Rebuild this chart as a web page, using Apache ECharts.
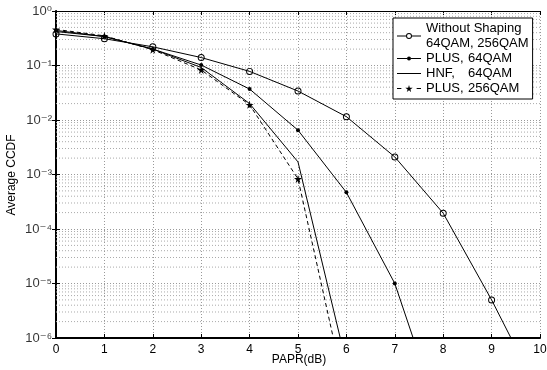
<!DOCTYPE html>
<html>
<head>
<meta charset="utf-8">
<script src="https://cdn.jsdelivr.net/npm/echarts@6/dist/echarts.min.js"></script>
<style>
  html, body { margin: 0; padding: 0; background: #fff; }
  #chart { width: 547px; height: 370px; }
</style>
</head>
<body>
<div id="chart"></div>
<script>
// PAPR (dB) sample points
const papr = [0, 1, 2, 3, 4, 5, 6, 7, 8, 9, 10];
// CCDF curves (last points fall below 1e-6 and get clipped)
const noShaping = [0.38, 0.31, 0.22, 0.14, 0.078, 0.034, 0.0115, 0.0021, 1.95e-4, 5.0e-6, 9e-8];
const plus64 = [0.44, 0.34, 0.20, 0.102, 0.037, 0.0065, 4.7e-4, 1.0e-5, 2.3e-8];
const hnf = [0.42, 0.34, 0.20, 0.092, 0.02, 0.0017, 3.4e-7];
const plus256 = [0.46, 0.35, 0.195, 0.083, 0.019, 8.3e-4, 8.3e-8];
const seriesNames = ['Without Shaping\n64QAM, 256QAM', 'PLUS, 64QAM', 'HNF, 64QAM', 'PLUS, 256QAM'];
// y tick values (decades)
const yTicks = [1, 1e-1, 1e-2, 1e-3, 1e-4, 1e-5, 1e-6];
// minor horizontal grid lines (2..9 x 10^k)
const minorGrid = [];
for (let k = -6; k < 0; k++) {
  for (let m = 2; m <= 9; m++) minorGrid.push(m * Math.pow(10, k));
}

const font = 'Liberation Sans, Arial, DejaVu Sans, sans-serif';
const star = 'path://M50,0 L61,35 L98,35 L68,57 L79,91 L50,70 L21,91 L32,57 L2,35 L39,35 Z';
// hollow ring marker (line shows through, like matlab 'o')
const ring = 'path://M100,50 A50,50 0 1,0 0,50 A50,50 0 1,0 100,50 Z M86,50 A36,36 0 1,1 14,50 A36,36 0 1,1 86,50 Z';
// legend icons: line + marker
const ringIcon = 'path://M0,2.5 L9,2.5 L9,3.5 L0,3.5 Z M15,2.5 L24,2.5 L24,3.5 L15,3.5 Z ' +
  'M15,3 A3,3 0 1,0 9,3 A3,3 0 1,0 15,3 Z M14,3 A2,2 0 1,1 10,3 A2,2 0 1,1 14,3 Z';
const dotIcon = 'path://M0,2.5 L10,2.5 L10,3.5 L0,3.5 Z M14,2.5 L24,2.5 L24,3.5 L14,3.5 Z ' +
  'M14,3 A2,2 0 1,1 10,3 A2,2 0 1,1 14,3 Z';
const lineIcon = 'path://M0,0 L24,0 L24,1 L0,1 Z';
const starIcon = 'path://M1,2.7 L5,2.7 L5,3.7 L1,3.7 Z M19,2.7 L23,2.7 L23,3.7 L19,3.7 Z ' +
  'M12,0 L12.77,2.45 L15.36,2.45 L13.26,3.99 L14.03,6.37 L12,4.9 L9.97,6.37 L10.74,3.99 L8.64,2.45 L11.23,2.45 Z';
const sup = {'0': '\u2070', '1': '\u00b9', '2': '\u00b2', '3': '\u00b3', '4': '\u2074',
  '5': '\u2075', '6': '\u2076', '-': '\u207b'};
const powLabel = (v) => '10' + String(Math.round(Math.log10(v))).split('').map(c => sup[c]).join('');

const pairs = (ys) => ys.map((y, i) => [papr[i], y]);

const chart = echarts.init(document.getElementById('chart'), null, {renderer: 'canvas'});

const gridLine = {show: true, lineStyle: {color: '#999', type: [1, 2], width: 1}};

// one thin helper series per minor grid value
const minorSeries = minorGrid.map(v => ({
  type: 'line', data: [[0, v], [10, v]], silent: true, symbol: 'none',
  z: 1, lineStyle: {color: '#aaa', type: [1, 2], width: 1}
}));

// y tick labels, placed at x = 0 through the axis scales
const tickLabelSeries = {
  type: 'scatter', data: yTicks.map(v => [0, v]), symbolSize: 0, silent: true, clip: false, z: 5,
  label: {
    show: true, position: 'left', distance: 4,
    fontFamily: font, fontSize: 13, color: '#000',
    formatter: (p) => powLabel(p.value[1])
  }
};

chart.setOption({
  animation: false,
  grid: {left: 56, right: 7, top: 11, bottom: 32, containLabel: false, outerBoundsMode: 'none'},
  graphic: [
    {type: 'text', x: 12, y: 175, rotation: Math.PI / 2,
     style: {text: 'Average CCDF', font: '12px ' + font, fill: '#000', align: 'center', verticalAlign: 'middle'}},
    {type: 'text', x: 299, y: 360,
     style: {text: 'PAPR(dB)', font: '12px ' + font, fill: '#000', align: 'center', verticalAlign: 'middle'}}
  ],
  xAxis: [{
    type: 'value', min: 0, max: 10, interval: 1,
    axisLine: {lineStyle: {color: '#000', width: 2}},
    axisTick: {inside: true, length: 4, lineStyle: {color: '#000'}},
    axisLabel: {fontFamily: font, fontSize: 12, color: '#000', margin: 6, lineHeight: 12},
    splitLine: gridLine
  }, {
    type: 'value', position: 'top', min: 0, max: 10, interval: 1,
    axisLine: {lineStyle: {color: '#000', width: 1}},
    axisTick: {inside: true, length: 4, lineStyle: {color: '#000'}},
    axisLabel: {show: false},
    splitLine: {show: false}
  }],
  yAxis: [{
    type: 'log', logBase: 10, min: 1e-6, max: 1, interval: 1,
    axisLine: {lineStyle: {color: '#000', width: 2}},
    axisTick: {inside: true, length: 4, lineStyle: {color: '#000'}},
    axisLabel: {show: false},
    splitLine: gridLine
  }, {
    type: 'log', logBase: 10, min: 1e-6, max: 1, interval: 1, position: 'right',
    axisLine: {lineStyle: {color: '#000', width: 1}},
    axisTick: {inside: true, length: 4, lineStyle: {color: '#000'}},
    axisLabel: {show: false},
    splitLine: {show: false}
  }],
  legend: {
    orient: 'vertical', left: 393, top: 18,
    backgroundColor: '#fff', borderColor: '#000', borderWidth: 1, borderRadius: 0,
    padding: [3, 4, 3, 4], itemGap: 0, itemWidth: 24, itemHeight: 7,
    data: [
      {name: seriesNames[0], icon: ringIcon, itemStyle: {borderWidth: 0}},
      {name: seriesNames[1], icon: dotIcon, itemStyle: {borderWidth: 0}},
      {name: seriesNames[2], icon: lineIcon, itemStyle: {borderWidth: 0}},
      {name: seriesNames[3], icon: starIcon, itemStyle: {borderWidth: 0}}
    ],
    formatter: function (name) {
      if (name.indexOf('\n') >= 0) return name;
      const parts = name.split(', ');
      return '{a|' + parts[0] + ',}{c|' + parts[1] + '}';
    },
    textStyle: {
      fontFamily: font, fontSize: 13, color: '#000', lineHeight: 15,
      rich: {
        a: {fontFamily: font, fontSize: 13, color: '#000', width: 42, lineHeight: 15},
        c: {fontFamily: font, fontSize: 13, color: '#000', lineHeight: 15}
      }
    }
  },
  series: minorSeries.concat([
    tickLabelSeries,
    {
      name: seriesNames[0], type: 'line', data: pairs(noShaping), clip: true, z: 3,
      symbol: ring, symbolSize: 7,
      lineStyle: {color: '#000', width: 1}, itemStyle: {color: '#000'}
    },
    {
      name: seriesNames[1], type: 'line', data: pairs(plus64), clip: true, z: 3,
      symbol: 'circle', symbolSize: 4,
      lineStyle: {color: '#000', width: 1}, itemStyle: {color: '#000'}
    },
    {
      name: seriesNames[2], type: 'line', data: pairs(hnf), clip: true, z: 3,
      symbol: 'none',
      lineStyle: {color: '#000', width: 1}, itemStyle: {color: '#000'}
    },
    {
      name: seriesNames[3], type: 'line', data: pairs(plus256), clip: true, z: 3,
      symbol: star, symbolSize: 8,
      lineStyle: {color: '#000', width: 1, type: [4, 3]}, itemStyle: {color: '#000'}
    }
  ])
});
</script>
</body>
</html>
